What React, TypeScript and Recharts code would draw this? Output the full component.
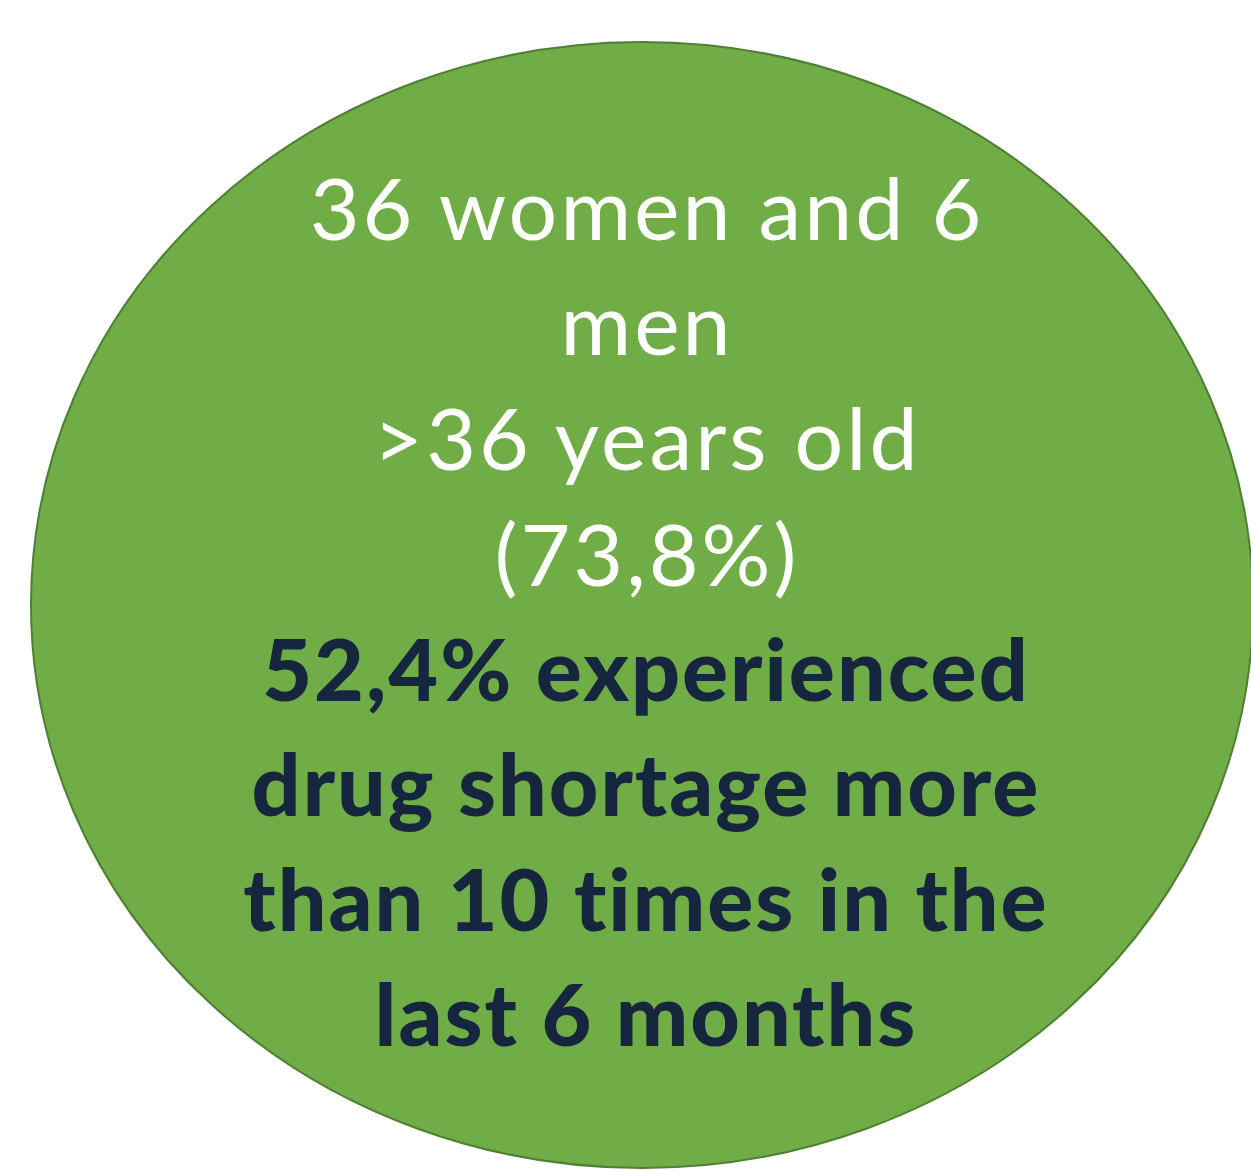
import React from "react";
import { PieChart, Pie, Cell } from "recharts";

const segments = [{ name: "respondents", value: 42 }];
const plainLines = ["36 women and 6", "men", ">36 years old", "(73,8%)"];
const boldLines = [
  "52,4% experienced",
  "drug shortage more",
  "than 10 times in the",
  "last 6 months",
];

const W = 1251;
const H = 1170;
const CX = 642;
const CY = 605;
const RY = 563;
const RX = 611;
const FIRST_BASE = 240;
const STEP = 115.2;

const EllipseShape = (props: any) => {
  const { cx, cy, outerRadius, fill } = props;
  const rx = (outerRadius * RX) / RY;
  return (
    <g>
      <ellipse cx={cx} cy={cy} rx={rx} ry={outerRadius} fill={fill} stroke="#507E32" strokeWidth={2} />
      {plainLines.map((t, i) => (
        <text
          key={"p" + i}
          x={647}
          y={FIRST_BASE + i * STEP}
          textAnchor="middle"
          fill="#FFFFFF"
          fontFamily="Lato, 'Open Sans', sans-serif"
          fontSize={86}
          fontWeight={400}
          style={{ letterSpacing: "3px", fontVariantLigatures: "none" }}
        >
          {t}
        </text>
      ))}
      {boldLines.map((t, i) => (
        <text
          key={"b" + i}
          x={646}
          y={FIRST_BASE + (i + 4) * STEP}
          textAnchor="middle"
          fill="#17263F"
          fontFamily="Lato, 'Open Sans', sans-serif"
          fontSize={86}
          fontWeight={900}
          style={{ letterSpacing: "2px", fontVariantLigatures: "none" }}
        >
          {t}
        </text>
      ))}
    </g>
  );
};

export default function App() {
  return (
    <div style={{ position: "absolute", left: 0, top: 0, width: W, height: H, background: "#fff" }}>
      <PieChart width={W} height={H} margin={{ top: 0, right: 0, bottom: 0, left: 0 }}>
        <Pie
          data={segments}
          dataKey="value"
          nameKey="name"
          cx={CX}
          cy={CY}
          outerRadius={RY}
          innerRadius={0}
          startAngle={90}
          endAngle={-270}
          stroke="none"
          isAnimationActive={false}
          shape={EllipseShape}
        >
          {segments.map((s) => (
            <Cell key={s.name} fill="#70AD47" />
          ))}
        </Pie>
      </PieChart>
    </div>
  );
}
